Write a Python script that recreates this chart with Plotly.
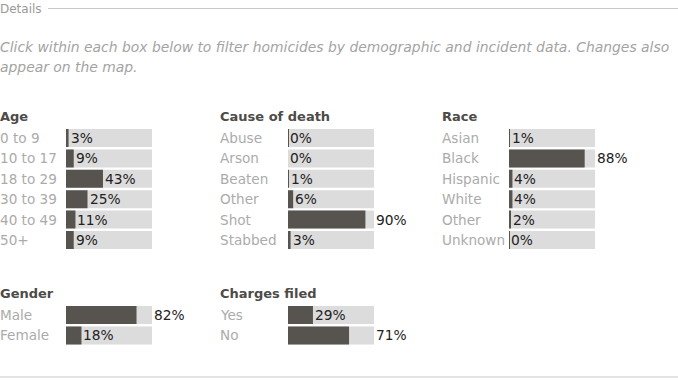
import plotly.graph_objects as go

# ---- data ----
age_cats = ["0 to 9", "10 to 17", "18 to 29", "30 to 39", "40 to 49", "50+"]
age_vals = [3, 9, 43, 25, 11, 9]
cause_cats = ["Abuse", "Arson", "Beaten", "Other", "Shot", "Stabbed"]
cause_vals = [0.4, 0, 1, 6, 90, 3]
race_cats = ["Asian", "Black", "Hispanic", "White", "Other", "Unknown"]
race_vals = [1, 88, 4, 4, 2, 0.4]
gender_cats = ["Male", "Female"]
gender_vals = [82, 18]
charges_cats = ["Yes", "No"]
charges_vals = [29, 71]

W, H = 678, 381
FONT = "DejaVu Sans"
DARK = "#57544f"
BG = "#dcdcdc"
LABEL = "#ababab"
HEAD = "#4d4b47"

panels = [
    # title, cats, vals, label_x(px), bar_x0(px), bar_x1(px), row1_center(px)
    ("Age", age_cats, age_vals, 0, 66, 152, 138),
    ("Cause of death", cause_cats, cause_vals, 220, 288, 374, 138),
    ("Race", race_cats, race_vals, 442, 509, 595, 138),
    ("Gender", gender_cats, gender_vals, 0, 66, 152, 315),
    ("Charges filed", charges_cats, charges_vals, 220, 288, 374, 315),
]
PITCH = 20.4

fig = go.Figure()
layout = dict(
    width=W, height=H, margin=dict(l=0, r=0, t=0, b=0),
    paper_bgcolor="white", plot_bgcolor="white",
    barmode="overlay", bargap=0.12, showlegend=False,
    font=dict(family=FONT),
)
annotations = []

for i, (title, cats, vals, lx, bx0, bx1, c1) in enumerate(panels):
    n = len(cats)
    ax = "" if i == 0 else str(i + 1)
    xa, ya = "x" + ax, "y" + ax
    top = c1 - PITCH / 2
    bot = c1 + PITCH * (n - 1) + PITCH / 2
    layout["xaxis" + ax] = dict(domain=[bx0 / W, bx1 / W], range=[0, 100], fixedrange=True,
                                visible=False, anchor=ya)
    layout["yaxis" + ax] = dict(domain=[1 - bot / H, 1 - top / H], type="category",
                                categoryorder="array", categoryarray=cats, fixedrange=True,
                                autorange="reversed", visible=False, anchor=xa)
    fig.add_trace(go.Bar(x=[100] * n, y=cats, orientation="h", marker=dict(color=BG, line_width=0),
                         xaxis=xa, yaxis=ya, hoverinfo="skip"))
    fig.add_trace(go.Bar(x=vals, y=cats, orientation="h", marker=dict(color=DARK, line_width=0),
                         xaxis=xa, yaxis=ya))
    # header
    annotations.append(dict(text="<b>" + title + "</b>", x=lx / W, y=1 - (c1 - 22) / H,
                            xref="paper", yref="paper", xanchor="left", yanchor="middle", xshift=-2,
                            showarrow=False, font=dict(size=13, color=HEAD, family=FONT)))
    for c, v in zip(cats, vals):
        annotations.append(dict(text=c, x=lx / W, y=c, xref="paper", yref=ya,
                                xanchor="left", yanchor="middle", showarrow=False, xshift=-2,
                                font=dict(size=13.6, color=LABEL, family=FONT)))
        tx = v if v <= 50 else 100
        annotations.append(dict(text=f"{round(v)}%", x=tx, y=c, xref=xa, yref=ya,
                                xanchor="left", yanchor="middle", showarrow=False, xshift=0,
                                font=dict(size=13.8, color="#222222", family=FONT)))

annotations.append(dict(text="Details", x=0, y=1 - 9 / H, xref="paper", yref="paper",
                        xanchor="left", yanchor="middle", showarrow=False, xshift=-2,
                        font=dict(size=12, color="#9a9a9a", family=FONT)))
annotations.append(dict(text="<i>Click within each box below to filter homicides by demographic and incident data. Changes also</i>",
                        x=0, y=1 - 47 / H, xref="paper", yref="paper", xanchor="left", yanchor="middle",
                        showarrow=False, xshift=-2, font=dict(size=13.9, color="#a3a3a3", family=FONT)))
annotations.append(dict(text="<i>appear on the map.</i>",
                        x=0, y=1 - 67 / H, xref="paper", yref="paper", xanchor="left", yanchor="middle",
                        showarrow=False, xshift=-2, font=dict(size=13.9, color="#a3a3a3", family=FONT)))
layout["annotations"] = annotations
layout["shapes"] = [
    dict(type="line", xref="paper", yref="paper", x0=48 / W, x1=1, y0=1 - 8.5 / H, y1=1 - 8.5 / H,
         line=dict(color="#c8c8c8", width=1)),
    dict(type="line", xref="paper", yref="paper", x0=0, x1=1, y0=1 - 377 / H, y1=1 - 377 / H,
         line=dict(color="#c8c8c8", width=1)),
]
fig.update_layout(**layout)
fig.write_html("out.html", config={"displayModeBar": False},
               post_script="document.body.style.margin='0';document.body.style.overflow='hidden';")
